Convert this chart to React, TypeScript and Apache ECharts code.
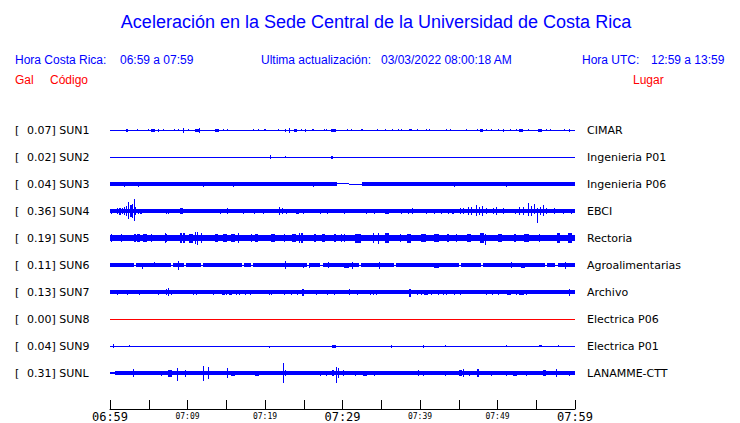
import React, { useEffect, useRef } from "react";
import * as echarts from "echarts";

// ---- data (minutes after 06:59, amplitudes in relative units: one row = 27) ----
const stationCodes = ["SUN1", "SUN2", "SUN3", "SUN4", "SUN5", "SUN6", "SUN7", "SUN8", "SUN9", "SUNL"];
const peakGal = ["0.07", "0.02", "0.04", "0.36", "0.19", "0.11", "0.13", "0.00", "0.04", "0.31"];
const places = ["CIMAR", "Ingenieria P01", "Ingenieria P06", "EBCI", "Rectoria", "Agroalimentarias", "Archivo", "Electrica P06", "Electrica P01", "LANAMME-CTT"];
const timeLabels = ["06:59", "07:09", "07:19", "07:29", "07:39", "07:49", "07:59"];

// background band of each trace: [startMin, endMin, up, down]
const sun1Band = [[0, 60, 0.5, 0.5]];
const sun2Band = [[0, 60, 0.5, 0.5]];
const sun3Band = [[0, 29.25, 1.7, 1.7], [29.25, 30.8, 1.5, -0.5], [30.8, 32.5, 0, 1], [32.5, 60, 1.7, 1.7]];
const sun4Band = [[0, 60, 1.8, 1.8], [0, 4, 2.3, 2.3], [44, 57, 2.3, 2.3]];
const sun5Band = [[0, 60, 3, 3]];
const sun6Band = [[0, 60, 0.5, 0.5], [0, 3.1, 1.6, 1.6], [3.4, 7.8, 1.6, 1.6], [8.1, 9.55, 1.6, 1.6], [9.85, 11.75, 1.6, 1.6], [12.05, 17.05, 1.6, 1.6], [17.35, 18.15, 1.6, 1.6], [18.45, 25.45, 1.6, 1.6], [25.75, 27.15, 1.6, 1.6], [27.45, 32.15, 1.6, 1.6], [32.45, 36.65, 1.6, 1.6], [36.95, 45.05, 1.6, 1.6], [45.35, 47.85, 1.6, 1.6], [48.15, 56.15, 1.6, 1.6], [56.45, 57.45, 1.6, 1.6], [57.75, 60, 1.6, 1.6]];
const sun7Band = [[0, 60, 1.7, 1.7]];
const sun8Band = [[0, 60, 0.5, 0.5]];
const sun9Band = [[0, 60, 0.5, 0.5]];
const sunLBand = [[0, 0.6, 1, 1], [0.6, 60, 1.8, 1.8]];

// peaks of each trace: [minute, up, down, widthMin?]
const sun1Spikes = [[2.15, 1.5, 1.5, 0.3], [3.57, 1, 1], [4.95, 1, 1], [5.55, 1.5, 1.5, 0.4], [6.24, 1.5, 1.5], [6.88, 1, 1], [8.3, 1, 1], [8.82, 1, 1], [9.46, 2.5, 2.5], [10.1, 1, 1], [11.23, 1.5, 1.5, 0.4], [11.61, 2.5, 2.5], [13.8, 1.5, 1.5, 0.4], [14.6, 1, 1], [15.1, 1, 1], [18.5, 1, 1], [19.1, 1, 1], [20.0, 1, 1], [21.7, 1, 1], [22.7, 1.5, 1.5], [23.1, 2.5, 2.5], [23.9, 1.5, 1.5, 0.4], [24.7, 1, 1], [25.2, 1.5, 1.5], [26.2, 1, 1, 0.3], [27.7, 1, 1], [27.96, 1, 1], [28.8, 1.5, 1.5, 0.6], [30.6, 1, 1], [31.2, 1, 1], [32.5, 1, 1, 0.3], [34.5, 1, 1], [35.6, 1, 1], [36.4, 1, 1], [37.2, 1, 1], [37.6, 1, 1], [38.8, 1, 1, 0.4], [39.7, 1, 1], [40.9, 1, 1], [41.2, 1, 1], [43.4, 1, 1], [43.9, 1, 1], [46.0, 1, 1], [47.4, 1, 1], [47.9, 1.5, 1.5, 0.4], [48.6, 1, 1], [49.25, 1, 1], [50.1, 1, 1], [50.75, 1.5, 1.5], [51.7, 1, 1], [52.5, 1, 1], [53.0, 1.5, 1.5, 0.5], [54.0, 1, 1], [55.5, 1.5, 1.5, 0.6], [56.3, 1, 1], [56.9, 1, 1], [58.6, 1, 1], [59.35, 1.5, 1.5]];
const sun2Spikes = [[20.7, 2, 2], [22.7, 1.5, 0.5], [28.6, 1.5, 1.5, 0.25]];
const sun3Spikes = [[1.85, 0, 2.5], [3.66, 0, 2.5], [6.67, 2.5, 0], [12.04, 2.5, 2.5], [15.9, 0, 2.5], [17.85, 2.5, 0], [21.72, 2.5, 0], [26.24, 0, 2.5], [44.5, 0, 2.5], [46.5, 2.5, 0], [51.1, 0, 3]];
const sun4Spikes = [[0.22, 2.5, 2.5], [0.65, 2, 2], [0.99, 3, 3], [1.29, 3.5, 3.5], [1.59, 3, 3], [1.85, 4, 4], [2.15, 5, 5], [2.45, 8.7, 8], [2.71, 6, 6], [2.88, 7, 7], [3.14, 12, 9.7], [3.35, 4, 4], [3.66, 2.5, 2.5], [4.0, 2.5, 2.5], [7.3, 2.5, 2.5], [7.53, 2.5, 2.5], [9.25, 3, 3, 0.4], [14.2, 2.5, 2.5], [15.2, 3, 3], [17.2, 2.5, 2.5], [18.7, 2.5, 2.5], [19.8, 2.5, 2.5], [21.9, 4, 4], [22.3, 3, 3], [22.8, 2.5, 2.5], [24.2, 2.5, 2.5, 0.4], [25.0, 2.5, 2.5], [27.1, 2.5, 2.5], [28.1, 2.5, 2.5], [30.3, 2.5, 2.5], [33.1, 2.5, 2.5], [34.1, 2.5, 2.5], [35.7, 2.5, 2.5, 0.5], [37.6, 2.5, 2.5], [38.5, 2.5, 2.5], [39.05, 3, 3], [40.9, 2.5, 2.5], [41.85, 2.5, 2.5], [42.8, 2.5, 2.5], [43.65, 2.5, 2.5], [44.3, 2.5, 2.5, 0.3], [45.25, 3, 3], [45.6, 3, 3], [46.2, 4, 4], [46.7, 4, 4], [47.3, 6, 5], [47.65, 4, 4], [48.1, 5, 5], [48.6, 3, 3], [49.5, 3, 3], [49.9, 4, 4], [50.75, 3, 3], [52.3, 2.5, 2.5], [52.9, 4, 4], [53.3, 4, 4], [54.0, 8, 5], [54.4, 5, 5], [54.8, 7, 3], [55.1, 3, 12], [55.5, 4, 4], [55.9, 6, 5], [56.35, 3, 3], [57.4, 3, 3], [58.5, 2.5, 2.5], [59.6, 2.5, 2.5]];
const sun5Spikes = [[0.22, 4, 4], [1.5, 4, 4], [3.23, 4, 4, 0.3], [3.66, 4, 4, 0.3], [4.52, 4, 4, 0.4], [5.38, 4, 4], [7.1, 5, 5], [7.31, 4, 4], [9.16, 5, 5, 0.3], [9.59, 5, 5, 0.3], [10.45, 4.5, 4.5, 0.4], [10.97, 6, 6], [11.31, 6, 7], [11.83, 5, 5], [13.76, 4, 4, 0.4], [14.84, 4, 4, 0.4], [15.9, 4, 4, 0.5], [16.56, 5, 5], [18.28, 4, 4], [18.9, 4, 4, 0.5], [21.07, 4, 4, 0.5], [22.58, 4, 4], [23.78, 4, 4, 0.5], [24.5, 5, 5], [24.8, 5, 5, 0.3], [26.45, 4, 4, 0.3], [27.53, 4, 4, 0.3], [29.03, 4, 4, 0.3], [29.89, 4, 4], [30.3, 4, 4], [32.0, 4.5, 4.5, 0.8], [33.98, 5, 5], [34.62, 5, 6], [35.7, 5, 5, 0.5], [37.42, 4, 4], [38.62, 4.5, 4.5, 0.5], [40.43, 4, 4, 0.6], [42.15, 4, 4, 0.6], [43.65, 4, 4, 0.3], [44.73, 4, 4], [46.37, 4, 4, 0.5], [47.96, 5, 5, 0.5], [48.39, 4, 7], [50.32, 4, 4, 0.6], [52.26, 4, 4, 0.3], [53.76, 4, 4, 0.6], [55.48, 4, 4], [57.85, 5, 5, 0.3], [59.35, 5, 5, 0.6]];
const sun6Spikes = [[4.17, 0.5, 4], [5.72, 3, 0.5], [6.45, 2, 2, 0.6], [7.53, 2, 2, 0.6], [8.82, 3.7, 5], [11.05, 2, 2, 1.2], [15.7, 2, 2], [17.85, 2, 2, 0.5], [22.6, 4, 4], [24.95, 2.5, 2.5], [25.8, 2.5, 2.5], [28.2, 3, 3], [29.0, 2, 2], [30.5, 2.5, 2.5, 0.6], [31.3, 3.5, 3.5], [34.75, 3.5, 3.5], [35.9, 2, 2, 1.2], [42.1, 2.5, 2.5, 0.6], [43.4, 2, 2], [51.8, 3, 3], [53.3, 2.5, 2.5, 0.5], [56.8, 2, 2], [58.8, 3.5, 3.5]];
const sun7Spikes = [[0.99, 2.5, 2.5], [2.28, 2.5, 2.5], [2.88, 2, 2], [3.87, 2.5, 2.5], [5.59, 2, 2], [6.24, 2.5, 2.5], [7.31, 3, 3], [7.61, 3.7, 4], [7.96, 2.5, 2.5], [10.75, 2.5, 2.5], [11.18, 2.5, 2.5], [11.83, 2, 2], [12.26, 2, 2], [13.33, 2.5, 2.5], [14.62, 2.5, 2.5, 0.4], [15.05, 2.5, 2.5], [15.6, 2.5, 2.5, 0.4], [16.34, 2.5, 2.5], [16.77, 2.5, 2.5], [17.42, 2.5, 2.5], [18.19, 2.5, 2.5], [20.56, 2.5, 2.5], [20.86, 2.5, 2.5], [21.63, 2, 2], [22.49, 2.5, 2.5], [23.44, 2.5, 2.5], [24.22, 2.5, 2.5], [24.86, 3.5, 3.5, 0.3], [26.67, 2.5, 2.5], [28.09, 2.5, 2.5], [29.03, 2.5, 2.5], [30.88, 3, 3], [31.9, 2.5, 2.5], [33.63, 2.5, 2.5], [33.98, 2.5, 2.5], [34.41, 2.5, 2.5], [37.33, 2, 2], [38.71, 3.5, 4.5], [39.66, 2.5, 2.5], [40.2, 2.5, 2.5], [40.77, 2.5, 2.5, 0.5], [41.5, 2.5, 2.5], [42.37, 2.5, 2.5], [43.0, 2.5, 2.5], [43.44, 2.5, 2.5], [44.5, 2.5, 2.5], [45.25, 2.5, 2.5], [48.6, 2.5, 2.5], [49.38, 2.5, 2.5], [50.1, 2.5, 2.5], [51.48, 2.5, 2.5, 0.4], [52.47, 2.5, 2.5], [53.1, 2.5, 2.5, 0.6], [53.68, 2.5, 2.5], [56.69, 2, 2], [59.35, 3.5, 3.5]];
const sun8Spikes: number[][] = [];
const sun9Spikes = [[0.43, 2, 2], [2.5, 1.5, 0.5], [20.6, 0.5, 1.5], [24.3, 0.5, 1], [25.7, 0.5, 1], [28.9, 1.5, 1.5, 0.6], [36.3, 1.5, 1.5], [39.1, 0.5, 1], [40.4, 1.5, 1.5], [43.35, 1, 0.5], [51.2, 1, 0.5], [54.6, 0.5, 1], [55.5, 1.5, 1, 0.4], [57.85, 1, 0.5]];
const sunLSpikes = [[3.0, 4, 4], [4.5, 2, 2], [6.67, 2.5, 2.5], [7.74, 3.5, 3.5, 0.6], [8.73, 5, 7.5], [9.68, 3.5, 3.5], [10.3, 2, 2], [10.97, 2, 2], [12.04, 7, 7.5], [12.69, 6, 6], [15.14, 5, 5], [15.9, 2.5, 2.5, 0.5], [19.0, 2.5, 2.5, 0.5], [22.37, 10, 9.5], [22.6, 3, 3], [27.2, 2.5, 2.5], [27.96, 2.5, 2.5], [28.8, 3, 3, 0.3], [29.25, 6, 10], [29.46, 5, 5], [30.1, 3, 3], [31.7, 2.5, 2.5], [32.35, 2, 2], [32.9, 2.5, 2.5, 0.5], [34.1, 2.5, 2.5], [37.6, 2, 2], [39.8, 3, 3], [40.4, 2.5, 2.5], [43.35, 2.5, 2.5], [45.2, 3, 3, 0.4], [45.6, 4, 4], [46.45, 2.5, 2.5], [47.5, 4, 4, 0.3], [49.25, 2.5, 2.5], [51.2, 2.5, 2.5], [52.26, 2.5, 2.5, 0.5], [53.8, 2.5, 2.5], [56.1, 3, 3, 0.4], [57.55, 4, 4], [59.35, 2.5, 2.5]];

const traceBands = [sun1Band, sun2Band, sun3Band, sun4Band, sun5Band, sun6Band, sun7Band, sun8Band, sun9Band, sunLBand];
const traceSpikes = [sun1Spikes, sun2Spikes, sun3Spikes, sun4Spikes, sun5Spikes, sun6Spikes, sun7Spikes, sun8Spikes, sun9Spikes, sunLSpikes];

const ROW = 27; // amplitude units between two traces
const BLUE = "#0000ff";
const RED = "#ff0000";
const SANS = "Liberation Sans, Arial, sans-serif";
const DEJAVU = "DejaVu Sans, sans-serif";
const MONO = "DejaVu Sans Mono, monospace";

export default function App() {
  const ref = useRef<HTMLDivElement>(null);

  useEffect(() => {
    const chart = echarts.init(ref.current as HTMLDivElement, null, { renderer: "svg" });

    const series = stationCodes.map((code, i) => {
      const color = peakGal[i] === "0.00" ? RED : BLUE;
      const items = [
        ...traceBands[i].map((b) => [b[0], b[1], b[2], b[3]]),
        ...traceSpikes[i].map((s) => {
          const w = s[3] !== undefined ? s[3] : 0.13;
          return [s[0] - w / 2, s[0] + w / 2, s[1], s[2]];
        }),
      ];
      return {
        type: "custom",
        name: code,
        data: items,
        dimensions: ["start", "end", "up", "down"],
        encode: { x: [0, 1], y: 2 },
        silent: true,
        clip: false,
        renderItem: (_params: any, api: any) => {
          const c = i * ROW;
          const p0 = api.coord([api.value(0), c - api.value(2)]);
          const p1 = api.coord([api.value(1), c + api.value(3)]);
          const l = Math.round(Math.min(p0[0], p1[0]));
          let r = Math.round(Math.max(p0[0], p1[0]));
          if (r <= l) r = l + 1;
          const t = Math.round(Math.min(p0[1], p1[1]));
          let b = Math.round(Math.max(p0[1], p1[1]));
          if (b <= t) b = t + 1;
          return {
            type: "rect",
            shape: { x: l, y: t, width: r - l, height: b - t },
            style: { fill: color },
          };
        },
      };
    });

    const txt = (text: string, x: number, y: number, fill: string, fontSize: number, fontFamily: string, align = "left") => ({
      type: "text",
      x,
      y,
      silent: true,
      style: { text, fill, fontSize, fontFamily, align, verticalAlign: "middle" },
    });

    const graphic: any[] = [
      txt("Aceleración en la Sede Central de la Universidad de Costa Rica", 376, 22, BLUE, 18, SANS, "center"),
      txt("Hora Costa Rica:", 15, 60, BLUE, 12, SANS),
      txt("06:59 a 07:59", 120, 60, BLUE, 12, SANS),
      txt("Ultima actualización:", 261, 60, BLUE, 12, SANS),
      txt("03/03/2022 08:00:18 AM", 381, 60, BLUE, 12, SANS),
      txt("Hora UTC:", 582, 60, BLUE, 12, SANS),
      txt("12:59 a 13:59", 651, 60, BLUE, 12, SANS),
      txt("Gal", 15, 80, RED, 12, SANS),
      txt("Código", 50, 80, RED, 12, SANS),
      txt("Lugar", 633, 80, RED, 12, SANS),
    ];
    stationCodes.forEach((code, i) => {
      const y = 130 + i * 27;
      graphic.push(txt("[", 15, y, "#000", 11, DEJAVU));
      graphic.push(txt(peakGal[i] + "] " + code, 27, y, "#000", 11, DEJAVU));
      graphic.push(txt(places[i], 587, y, "#000", 11, DEJAVU));
    });

    chart.setOption({
      animation: false,
      backgroundColor: "#ffffff",
      grid: { left: 110, right: 165, top: 103, bottom: 14, containLabel: false },
      xAxis: {
        type: "value",
        min: 0,
        max: 60,
        interval: 5,
        axisLine: { show: true, onZero: false, lineStyle: { color: "#000", width: 1 } },
        axisTick: { show: true, inside: true, length: 9, lineStyle: { color: "#000", width: 1 } },
        splitLine: { show: false },
        axisLabel: {
          show: true,
          margin: 2,
          showMinLabel: true,
          showMaxLabel: true,
          hideOverlap: false,
          formatter: (v: number) => {
            if (Math.round(v) % 10 !== 0) return "";
            const t = timeLabels[Math.round(v / 10)];
            return Math.round(v) % 30 === 0 ? `{big|${t}}` : `{small|${t}}`;
          },
          rich: {
            big: { fontFamily: MONO, fontSize: 12, color: "#000" },
            small: { fontFamily: MONO, fontSize: 8, color: "#000", padding: [1, 0, 0, 0] },
          },
        },
      },
      yAxis: { type: "value", inverse: true, min: -ROW, max: 279, show: false },
      series,
      graphic,
    } as any);

    return () => chart.dispose();
  }, []);

  return (
    <div
      ref={ref}
      style={{ position: "fixed", left: 0, top: 0, width: 740, height: 423, background: "#fff" }}
    />
  );
}
